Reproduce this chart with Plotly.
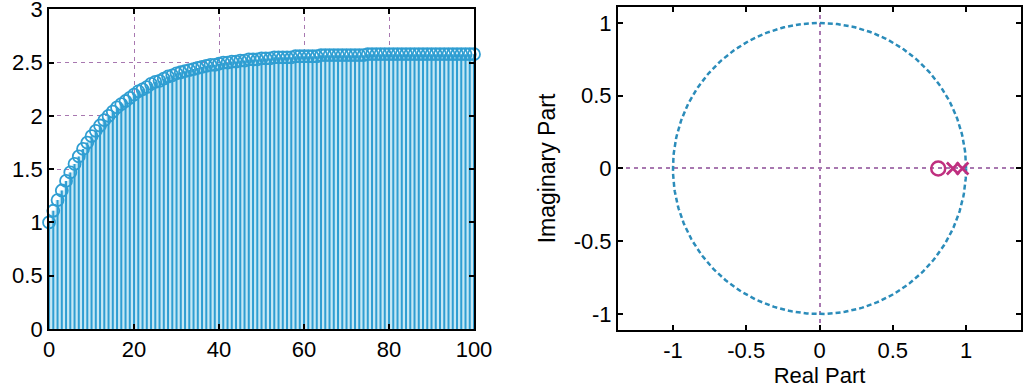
import numpy as np
import plotly.graph_objects as go

# ---- data ----
n = list(range(101))
y_resp = [1.00, 1.11, 1.21, 1.30, 1.39, 1.47, 1.55, 1.62, 1.69, 1.75,
          1.81, 1.86, 1.91, 1.96, 2.00, 2.04, 2.08, 2.11, 2.14, 2.17,
          2.20, 2.23, 2.25, 2.27, 2.30, 2.32, 2.33, 2.35, 2.37, 2.38,
          2.40, 2.41, 2.42, 2.43, 2.44, 2.45, 2.46, 2.47, 2.48, 2.48,
          2.49, 2.50, 2.50, 2.51, 2.51, 2.52, 2.52, 2.53, 2.53, 2.53,
          2.54, 2.54, 2.54, 2.55, 2.55, 2.55, 2.55, 2.55, 2.56, 2.56,
          2.56, 2.56, 2.56, 2.56, 2.57, 2.57, 2.57, 2.57, 2.57, 2.57,
          2.57, 2.57, 2.57, 2.57, 2.57, 2.58, 2.58, 2.58, 2.58, 2.58,
          2.58, 2.58, 2.58, 2.58, 2.58, 2.58, 2.58, 2.58, 2.58, 2.58,
          2.58, 2.58, 2.58, 2.58, 2.58, 2.58, 2.58, 2.58, 2.58, 2.58,
          2.58]
zeros_re = [0.81]
zeros_im = [0.0]
poles_re = [0.91, 0.975]
poles_im = [0.0, 0.0]
unit_theta = np.linspace(0, 2 * np.pi, 361)

left_xticks = [0, 20, 40, 60, 80, 100]
left_yticks = [0, 0.5, 1, 1.5, 2, 2.5, 3]
right_ticks = [-1, -0.5, 0, 0.5, 1]
right_ytext = ["-1", "-0.5", "0", "0.5", "1"]

# ---- style ----
BLUE = "#2f9ed2"
STEM_FILL = "#c6e8f5"
CIRC = "#2b8cba"
MAG = "#bf2f7f"
GRID = "#a878b0"
FONT = "Liberation Sans, Arial, sans-serif"

fig = go.Figure()

# light fill between stems
fig.add_trace(go.Scatter(x=n, y=y_resp, mode="lines", line=dict(width=0, shape="hvh"),
                         fill="tozeroy", fillcolor=STEM_FILL, hoverinfo="skip",
                         xaxis="x", yaxis="y", showlegend=False))
# stems
sx, sy = [], []
for xi, yi in zip(n, y_resp):
    sx += [xi, xi, None]
    sy += [0, yi, None]
fig.add_trace(go.Scatter(x=sx, y=sy, mode="lines", line=dict(color=BLUE, width=2),
                         xaxis="x", yaxis="y", showlegend=False, cliponaxis=False))
fig.add_trace(go.Scatter(x=n, y=y_resp, mode="markers",
                         marker=dict(symbol="circle-open", size=12, color=BLUE,
                                     line=dict(width=1.8, color=BLUE)),
                         xaxis="x", yaxis="y", showlegend=False, cliponaxis=False))

# unit circle
fig.add_trace(go.Scatter(x=np.cos(unit_theta), y=np.sin(unit_theta), mode="lines",
                         line=dict(color=CIRC, width=2.5, dash="5px,3px"),
                         xaxis="x2", yaxis="y2", showlegend=False))
fig.add_trace(go.Scatter(x=zeros_re, y=zeros_im, mode="markers",
                         marker=dict(symbol="circle-open", size=14, color=MAG,
                                     line=dict(width=2.5, color=MAG)),
                         xaxis="x2", yaxis="y2", showlegend=False, cliponaxis=False))
fig.add_trace(go.Scatter(x=poles_re, y=poles_im, mode="markers",
                         marker=dict(symbol="x-thin-open", size=12, color=MAG,
                                     line=dict(width=2.8, color=MAG)),
                         xaxis="x2", yaxis="y2", showlegend=False, cliponaxis=False))

axis_common = dict(showline=True, linecolor="black", linewidth=2, mirror="ticks",
                   ticks="inside", ticklen=5, tickwidth=1.5, tickcolor="black",
                   zeroline=False, automargin=False, ticklabeloverflow="allow",
                   tickfont=dict(family=FONT, size=22, color="black"))

fig.update_layout(
    width=1024, height=388,
    margin=dict(l=0, r=0, t=0, b=0),
    paper_bgcolor="white", plot_bgcolor="white",
    font=dict(family=FONT, color="black"),
    xaxis=dict(domain=[0.0479, 0.4629], range=[0, 100], tickvals=left_xticks,
               showgrid=False,
               minor=dict(tickvals=[20, 40, 60, 80], showgrid=True, gridcolor=GRID,
                          griddash="4px,4px", gridwidth=1.2, ticks=""),
               anchor="y", **axis_common),
    yaxis=dict(domain=[0.152, 0.9758], range=[0, 3], tickvals=left_yticks,
               showgrid=False,
               minor=dict(tickvals=[0.5, 1, 1.5, 2, 2.5], showgrid=True, gridcolor=GRID,
                          griddash="4px,4px", gridwidth=1.2, ticks=""),
               anchor="x", **axis_common),
    xaxis2=dict(domain=[0.6035, 0.9971], range=[-1.375, 1.375], tickvals=right_ticks,
                ticktext=["-1", "-0.5", "0", "0.5", "1"], showgrid=False,
                minor=dict(tickvals=[0], showgrid=True, gridcolor=GRID,
                           griddash="4px,4px", gridwidth=1.5, ticks=""),
                title=dict(text="Real Part", font=dict(family=FONT, size=22), standoff=2),
                anchor="y2", **axis_common),
    yaxis2=dict(domain=[0.1495, 0.982], range=[-1.11, 1.11], tickvals=right_ticks,
                ticktext=right_ytext, showgrid=False,
                minor=dict(tickvals=[0], showgrid=True, gridcolor=GRID,
                           griddash="4px,4px", gridwidth=1.5, ticks=""),
                title=dict(text="Imaginary Part", font=dict(family=FONT, size=23), standoff=12),
                anchor="x2", **axis_common),
)

fig.write_html("out.html", config={"displayModeBar": False},
               post_script="document.body.style.margin='0px';document.body.style.overflow='hidden';")
